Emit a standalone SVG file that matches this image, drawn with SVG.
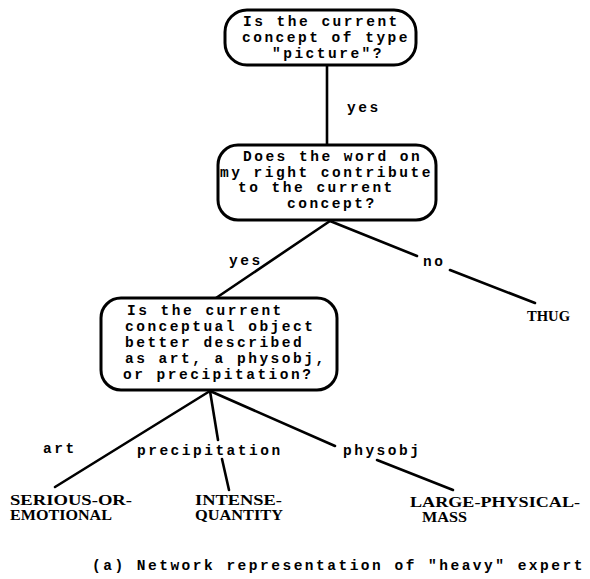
<svg xmlns="http://www.w3.org/2000/svg" width="590" height="579" viewBox="0 0 590 579">
<style>
.bg{fill:#ffffff}
.box{fill:#ffffff;stroke:#000;stroke-width:3}
.con{stroke:#000;stroke-width:2.6;fill:none;stroke-linecap:round}
.tw{font-family:"Liberation Mono","DejaVu Sans Mono",monospace;font-weight:bold;font-size:14.5px;letter-spacing:2.5px;fill:#000}
.leaf{font-family:"Liberation Serif","DejaVu Serif",serif;font-weight:bold;font-size:15px;fill:#000}
</style>
<rect class="bg" x="0" y="0" width="590" height="579"/>
<g id="connectors">
<path class="con" d="M327,65 L327,145"/>
<path class="con" d="M330,221 L216,298"/>
<path class="con" d="M330,221 L417,256"/>
<path class="con" d="M450,270 L535,303"/>
<path class="con" d="M210,391 L55,487"/>
<path class="con" d="M210,391 L218,440"/>
<path class="con" d="M222,459 L229,490"/>
<path class="con" d="M210,391 L335,446"/>
<path class="con" d="M377,460 L453,490"/>
</g>
<g id="q1">
<rect class="box" x="225" y="10" width="191" height="55" rx="22" ry="22"/>
<text class="tw" x="243" y="26">Is the current</text>
<text class="tw" x="242" y="42">concept of type</text>
<text class="tw" x="272" y="58">"picture"?</text>
</g>
<g id="q2">
<rect class="box" x="218" y="145" width="218" height="75" rx="20" ry="20"/>
<text class="tw" x="243" y="161">Does the word on</text>
<text class="tw" x="220" y="176.5">my right contribute</text>
<text class="tw" x="238" y="192">to the current</text>
<text class="tw" x="287" y="207.5">concept?</text>
</g>
<g id="q3">
<rect class="box" x="101" y="298" width="236" height="92" rx="20" ry="20"/>
<text class="tw" x="127" y="315">Is the current</text>
<text class="tw" x="125" y="331">conceptual object</text>
<text class="tw" x="125" y="347">better described</text>
<text class="tw" x="125" y="363">as art, a physobj,</text>
<text class="tw" x="123" y="379">or precipitation?</text>
</g>
<g id="labels">
<text class="tw" x="347" y="112">yes</text>
<text class="tw" x="229" y="265">yes</text>
<text class="tw" x="423" y="266">no</text>
<text class="tw" x="43" y="453">art</text>
<text class="tw" x="137" y="455">precipitation</text>
<text class="tw" x="343" y="455">physobj</text>
</g>
<g id="thug"><text class="leaf" x="527" y="321" textLength="43" lengthAdjust="spacingAndGlyphs">THUG</text></g>
<g id="serious">
<text class="leaf" x="10" y="505" textLength="122" lengthAdjust="spacingAndGlyphs">SERIOUS-OR-</text>
<text class="leaf" x="10" y="520" textLength="102" lengthAdjust="spacingAndGlyphs">EMOTIONAL</text>
</g>
<g id="intense">
<text class="leaf" x="195" y="505" textLength="87" lengthAdjust="spacingAndGlyphs">INTENSE-</text>
<text class="leaf" x="195" y="520" textLength="88" lengthAdjust="spacingAndGlyphs">QUANTITY</text>
</g>
<g id="large">
<text class="leaf" x="410" y="507" textLength="170" lengthAdjust="spacingAndGlyphs">LARGE-PHYSICAL-</text>
<text class="leaf" x="422" y="522" textLength="45" lengthAdjust="spacingAndGlyphs">MASS</text>
</g>
<text class="tw" x="92" y="570">(a) Network representation of "heavy" expert</text>
</svg>
